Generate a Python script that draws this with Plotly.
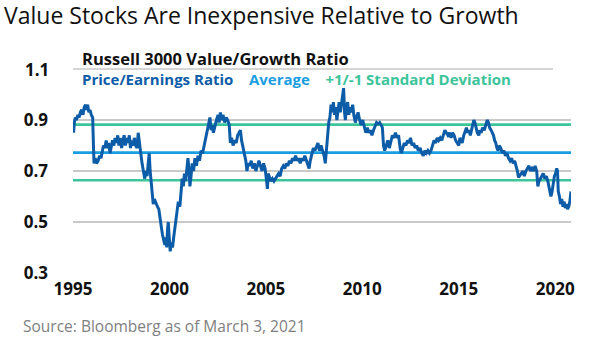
import plotly.graph_objects as go

# Russell 3000 Value/Growth price/earnings ratio (decimal year, ratio)
years = [
    1995.00, 1995.03, 1995.07, 1995.12, 1995.18, 1995.25, 1995.32, 1995.38, 1995.45, 1995.52,
    1995.58, 1995.65, 1995.70, 1995.76, 1995.82, 1995.88, 1995.95, 1996.02, 1996.06, 1996.09,
    1996.15, 1996.22, 1996.30, 1996.38, 1996.45, 1996.52, 1996.58, 1996.65, 1996.72, 1996.78,
    1996.85, 1996.92, 1996.98, 1997.05, 1997.12, 1997.18, 1997.25, 1997.32, 1997.38, 1997.45,
    1997.52, 1997.58, 1997.65, 1997.72, 1997.78, 1997.85, 1997.92, 1997.98, 1998.05, 1998.12,
    1998.18, 1998.25, 1998.32, 1998.38, 1998.45, 1998.52, 1998.58, 1998.65, 1998.72, 1998.78,
    1998.84, 1998.90, 1998.95, 1999.00, 1999.05, 1999.10, 1999.16, 1999.22, 1999.30, 1999.38,
    1999.45, 1999.52, 1999.58, 1999.64, 1999.70, 1999.76, 1999.82, 1999.86, 1999.90, 1999.94,
    1999.98, 2000.04, 2000.10, 2000.16, 2000.22, 2000.30, 2000.38, 2000.46, 2000.54, 2000.60,
    2000.66, 2000.72, 2000.78, 2000.84, 2000.90, 2000.96, 2001.02, 2001.06, 2001.12, 2001.18,
    2001.25, 2001.32, 2001.40, 2001.48, 2001.56, 2001.64, 2001.72, 2001.80, 2001.88, 2001.96,
    2002.04, 2002.10, 2002.16, 2002.22, 2002.28, 2002.36, 2002.44, 2002.52, 2002.58, 2002.64,
    2002.70, 2002.78, 2002.86, 2002.94, 2003.02, 2003.10, 2003.16, 2003.22, 2003.30, 2003.38,
    2003.46, 2003.54, 2003.62, 2003.68, 2003.74, 2003.82, 2003.90, 2003.96, 2004.02, 2004.08,
    2004.16, 2004.24, 2004.32, 2004.40, 2004.48, 2004.56, 2004.64, 2004.72, 2004.80, 2004.88,
    2004.96, 2005.04, 2005.08, 2005.12, 2005.18, 2005.26, 2005.34, 2005.42, 2005.50, 2005.58,
    2005.66, 2005.74, 2005.82, 2005.90, 2005.98, 2006.06, 2006.14, 2006.22, 2006.30, 2006.38,
    2006.46, 2006.54, 2006.62, 2006.70, 2006.78, 2006.86, 2006.94, 2007.02, 2007.10, 2007.18,
    2007.24, 2007.30, 2007.38, 2007.46, 2007.54, 2007.62, 2007.70, 2007.78, 2007.86, 2007.94,
    2008.02, 2008.08, 2008.14, 2008.20, 2008.26, 2008.32, 2008.38, 2008.44, 2008.50, 2008.56,
    2008.62, 2008.68, 2008.74, 2008.80, 2008.86, 2008.92, 2008.98, 2009.03, 2009.08, 2009.12,
    2009.18, 2009.24, 2009.30, 2009.36, 2009.42, 2009.50, 2009.56, 2009.64, 2009.70, 2009.78,
    2009.86, 2009.94, 2010.02, 2010.10, 2010.18, 2010.26, 2010.34, 2010.42, 2010.50, 2010.58,
    2010.66, 2010.74, 2010.82, 2010.90, 2010.98, 2011.04, 2011.10, 2011.16, 2011.24, 2011.32,
    2011.40, 2011.48, 2011.56, 2011.64, 2011.72, 2011.80, 2011.88, 2011.96, 2012.02, 2012.10,
    2012.18, 2012.26, 2012.34, 2012.42, 2012.50, 2012.58, 2012.66, 2012.74, 2012.82, 2012.90,
    2013.00, 2013.08, 2013.16, 2013.24, 2013.32, 2013.40, 2013.48, 2013.56, 2013.64, 2013.72,
    2013.80, 2013.88, 2013.96, 2014.04, 2014.12, 2014.20, 2014.28, 2014.36, 2014.44, 2014.52,
    2014.60, 2014.68, 2014.76, 2014.84, 2014.92, 2015.00, 2015.06, 2015.12, 2015.18, 2015.26,
    2015.34, 2015.40, 2015.46, 2015.54, 2015.60, 2015.66, 2015.72, 2015.78, 2015.84, 2015.90,
    2015.96, 2016.04, 2016.10, 2016.16, 2016.24, 2016.32, 2016.40, 2016.48, 2016.54, 2016.60,
    2016.68, 2016.74, 2016.80, 2016.86, 2016.92, 2016.98, 2017.04, 2017.10, 2017.18, 2017.26,
    2017.34, 2017.42, 2017.50, 2017.58, 2017.66, 2017.74, 2017.82, 2017.90, 2017.98, 2018.04,
    2018.10, 2018.16, 2018.24, 2018.32, 2018.40, 2018.48, 2018.56, 2018.64, 2018.72, 2018.80,
    2018.88, 2018.96, 2019.04, 2019.10, 2019.16, 2019.22, 2019.30, 2019.38, 2019.46, 2019.54,
    2019.62, 2019.70, 2019.78, 2019.84, 2019.90, 2019.96, 2020.02, 2020.08, 2020.12, 2020.16,
    2020.22, 2020.28, 2020.34, 2020.40, 2020.46, 2020.52, 2020.58, 2020.64, 2020.70, 2020.76,
    2020.82,
]
pe_ratio = [
    0.88, 0.85, 0.89, 0.91, 0.90, 0.92, 0.91, 0.93, 0.94, 0.92,
    0.95, 0.96, 0.94, 0.96, 0.93, 0.94, 0.92, 0.91, 0.80, 0.73,
    0.75, 0.73, 0.74, 0.76, 0.75, 0.78, 0.80, 0.79, 0.82, 0.79,
    0.81, 0.77, 0.80, 0.82, 0.80, 0.83, 0.81, 0.84, 0.80, 0.83,
    0.79, 0.82, 0.84, 0.80, 0.83, 0.81, 0.84, 0.79, 0.82, 0.80,
    0.83, 0.80, 0.79, 0.85, 0.80, 0.76, 0.73, 0.70, 0.67, 0.70,
    0.68, 0.73, 0.77, 0.70, 0.66, 0.59, 0.57, 0.59, 0.57, 0.56,
    0.55, 0.52, 0.48, 0.45, 0.43, 0.41, 0.44, 0.40, 0.47, 0.50,
    0.45, 0.385, 0.42, 0.40, 0.44, 0.49, 0.53, 0.58, 0.56, 0.62,
    0.67, 0.64, 0.69, 0.66, 0.72, 0.75, 0.70, 0.64, 0.68, 0.73,
    0.70, 0.75, 0.72, 0.76, 0.74, 0.78, 0.77, 0.80, 0.83, 0.85,
    0.88, 0.91, 0.86, 0.88, 0.85, 0.88, 0.90, 0.92, 0.89, 0.93,
    0.90, 0.92, 0.89, 0.91, 0.90, 0.88, 0.81, 0.83, 0.80, 0.82,
    0.81, 0.84, 0.85, 0.86, 0.82, 0.79, 0.76, 0.74, 0.70, 0.73,
    0.72, 0.74, 0.71, 0.73, 0.70, 0.72, 0.74, 0.72, 0.70, 0.73,
    0.71, 0.66, 0.63, 0.69, 0.68, 0.66, 0.67, 0.66, 0.67, 0.68,
    0.69, 0.68, 0.71, 0.72, 0.71, 0.73, 0.72, 0.74, 0.73, 0.75,
    0.74, 0.76, 0.74, 0.75, 0.73, 0.75, 0.74, 0.76, 0.74, 0.73,
    0.71, 0.74, 0.77, 0.79, 0.78, 0.80, 0.81, 0.78, 0.80, 0.78,
    0.76, 0.73, 0.79, 0.85, 0.89, 0.91, 0.96, 0.93, 0.97, 0.92,
    0.95, 0.90, 0.94, 0.97, 0.93, 0.97, 0.99, 1.025, 0.93, 0.90,
    0.95, 0.97, 0.92, 0.95, 0.93, 0.96, 0.92, 0.89, 0.91, 0.93,
    0.90, 0.88, 0.90, 0.87, 0.85, 0.87, 0.85, 0.86, 0.84, 0.86,
    0.88, 0.89, 0.885, 0.89, 0.88, 0.87, 0.80, 0.78, 0.80, 0.82,
    0.79, 0.82, 0.84, 0.83, 0.85, 0.83, 0.84, 0.79, 0.77, 0.79,
    0.81, 0.80, 0.82, 0.81, 0.83, 0.80, 0.81, 0.79, 0.80, 0.78,
    0.79, 0.77, 0.76, 0.78, 0.77, 0.78, 0.77, 0.78, 0.80, 0.82,
    0.81, 0.83, 0.82, 0.83, 0.82, 0.84, 0.86, 0.85, 0.84, 0.85,
    0.83, 0.85, 0.84, 0.82, 0.81, 0.80, 0.83, 0.82, 0.81, 0.84,
    0.86, 0.87, 0.85, 0.86, 0.84, 0.86, 0.88, 0.90, 0.89, 0.87,
    0.85, 0.84, 0.86, 0.85, 0.87, 0.86, 0.88, 0.90, 0.89, 0.87,
    0.86, 0.85, 0.84, 0.82, 0.81, 0.79, 0.78, 0.80, 0.79, 0.77,
    0.78, 0.76, 0.77, 0.75, 0.74, 0.75, 0.73, 0.74, 0.72, 0.70,
    0.675, 0.68, 0.69, 0.70, 0.68, 0.70, 0.71, 0.72, 0.70, 0.71,
    0.70, 0.72, 0.70, 0.64, 0.66, 0.67, 0.68, 0.69, 0.67, 0.68,
    0.66, 0.63, 0.60, 0.62, 0.66, 0.68, 0.69, 0.71, 0.70, 0.62,
    0.60, 0.57, 0.59, 0.56, 0.58, 0.555, 0.57, 0.55, 0.56, 0.58,
    0.62,
]

average = 0.772
plus_one_sd = 0.882
minus_one_sd = 0.664

y_ticks = [0.3, 0.5, 0.7, 0.9]
y_tick_text = ["0.3", "0.5", "0.7", "0.9"]
y_top = 1.1
x_ticks = [1995, 2000, 2005, 2010, 2015, 2020]
x_tick_text = ["1995", "2000", "2005", "2010", "2015", "2020"]

DARK_BLUE = "#0d5ca8"
LIGHT_BLUE = "#1a9ee2"
GREEN = "#3cc49a"
GRID = "#c9c9c9"
FONT = "Open Sans"

x_start, x_end = years[0], years[-1]

fig = go.Figure()

# reference levels: average and +/- one standard deviation
for level, color in [(plus_one_sd, GREEN), (minus_one_sd, GREEN), (average, LIGHT_BLUE)]:
    fig.add_trace(go.Scatter(
        x=[x_start, x_end], y=[level, level], mode="lines",
        line=dict(color=color, width=2.6), hoverinfo="skip", showlegend=False,
    ))

fig.add_trace(go.Scatter(
    x=years, y=pe_ratio, mode="lines",
    line=dict(color=DARK_BLUE, width=3), showlegend=False,
    name="Price/Earnings Ratio",
))

# rule under the chart heading, sitting on the top (1.1) level
fig.add_shape(type="line", xref="paper", yref="paper", x0=0, x1=480 / 498, y0=1, y1=1,
              line=dict(color=GRID, width=1.5), layer="below")

fig.update_layout(
    width=605, height=341,
    margin=dict(l=73, r=34, t=69, b=68),
    paper_bgcolor="white", plot_bgcolor="white",
    font=dict(family=FONT, color="#111111"),
    xaxis=dict(
        range=[x_start, x_end], tickvals=x_ticks, ticktext=x_tick_text,
        showgrid=False, zeroline=False, showline=False, ticks="",
        tickfont=dict(size=17, family=FONT, weight="bold", color="#111111"),
        ticklabelstandoff=4,
    ),
    yaxis=dict(
        range=[0.3, y_top], tickvals=y_ticks, ticktext=y_tick_text,
        showgrid=True, gridcolor=GRID, gridwidth=1.5,
        zeroline=False, showline=False, ticks="",
        tickfont=dict(size=17, family=FONT, weight="bold", color="#111111"),
        ticklabelstandoff=24,
    ),
    annotations=[
        dict(text="Value Stocks Are Inexpensive Relative to Growth",
             xref="paper", yref="paper", x=-71 / 498, y=1 + 54 / 204,
             xanchor="left", yanchor="middle", showarrow=False,
             font=dict(size=23, family=FONT, weight=500, color="#111111")),
        dict(text=f"{y_top:.1f}",
             xref="paper", yref="y", x=-22 / 498, y=y_top,
             xanchor="right", yanchor="middle", showarrow=False,
             font=dict(size=17, family=FONT, weight="bold", color="#111111")),
        dict(text="<b>Russell 3000 Value/Growth Ratio</b>",
             xref="paper", yref="paper", x=7 / 498, y=1 + 10 / 204,
             xanchor="left", yanchor="middle", showarrow=False,
             font=dict(size=16.5, family=FONT, color="#111111")),
        dict(text=(f"<b><span style='color:{DARK_BLUE}'>Price/Earnings Ratio</span>"
                   f"    <span style='color:{LIGHT_BLUE}'>Average</span>"
                   f"    <span style='color:{GREEN}'>+1/-1 Standard Deviation</span></b>"),
             xref="paper", yref="paper", x=7 / 498, y=1 - 10 / 204,
             xanchor="left", yanchor="middle", showarrow=False,
             font=dict(size=15, family=FONT)),
        dict(text="Source: Bloomberg as of March 3, 2021",
             xref="paper", yref="paper", x=-52 / 498, y=-53 / 204,
             xanchor="left", yanchor="middle", showarrow=False,
             font=dict(size=15.5, family=FONT, color="#808080")),
    ],
)

fig.write_html("out.html")
